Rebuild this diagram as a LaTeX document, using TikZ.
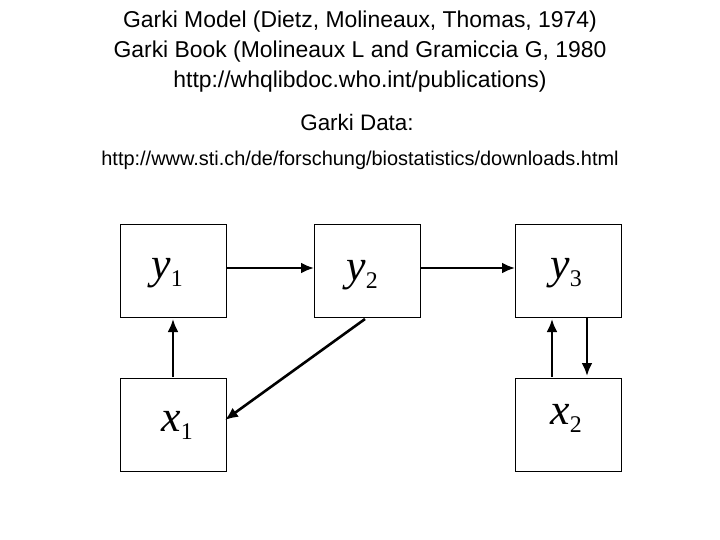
\documentclass[tikz,border=0pt]{standalone}
\usepackage{fontspec}
\setmainfont{Liberation Sans}
\newfontfamily\serifit{Liberation Serif}
\usetikzlibrary{arrows.meta}
\newcommand{\varlab}[2]{{\serifit\fontsize{44}{44}\selectfont\itshape #1}\raisebox{-8bp}{\serifit\fontsize{24}{24}\selectfont #2}}
\begin{document}
\begin{tikzpicture}[x=1bp,y=-1bp,
  box/.style={draw,line width=0.8pt,minimum width=106bp,minimum height=93bp,inner sep=0pt},
  lab/.style={inner sep=0pt},
  arr/.style={line width=2.6pt,-{Latex[length=13bp,width=11bp]}},
  ttl/.style={font=\fontsize{23}{26}\selectfont}]
\useasboundingbox (0,0) rectangle (720,540);
\node[ttl] (t1) at (360,22) {Garki Model (Dietz, Molineaux, Thomas, 1974)};
\node[ttl] (t2) at (360,52) {Garki Book (Molineaux L and Gramiccia G, 1980};
\node[ttl] (t3) at (360,82) {http://whqlibdoc.who.int/publications)};
\node[font=\fontsize{22.5}{26}\selectfont] (t4) at (357,122) {Garki Data:};
\node[font=\fontsize{20}{24}\selectfont] (t5) at (360,160) {http://www.sti.ch/de/forschung/biostatistics/downloads.html};
\node[box] (y1) at (173.5,271) {};
\node[box] (y2) at (367.5,271) {};
\node[box] (y3) at (568.5,271) {};
\node[box] (x1) at (173.5,424.5) {};
\node[box] (x2) at (568.5,424.5) {};
\node[lab] (ly1) at (167,273) {\varlab{y}{1}};
\node[lab] (ly2) at (362,275) {\varlab{y}{2}};
\node[lab] (ly3) at (566,273) {\varlab{y}{3}};
\node[lab] (lx1) at (177,425) {\varlab{x}{1}};
\node[lab] (lx2) at (566,418) {\varlab{x}{2}};
\draw[arr] (y1.east |- 0,268) -- (y2.west |- 0,268);
\draw[arr] (y2.east |- 0,268) -- (y3.west |- 0,268);
\draw[arr] (173,377) -- (173,319);
\draw[arr] (365,319) -- (225,420);
\draw[arr] (552,377) -- (552,319);
\draw[arr] (587,318) -- (587,376);
\end{tikzpicture}
\end{document}
